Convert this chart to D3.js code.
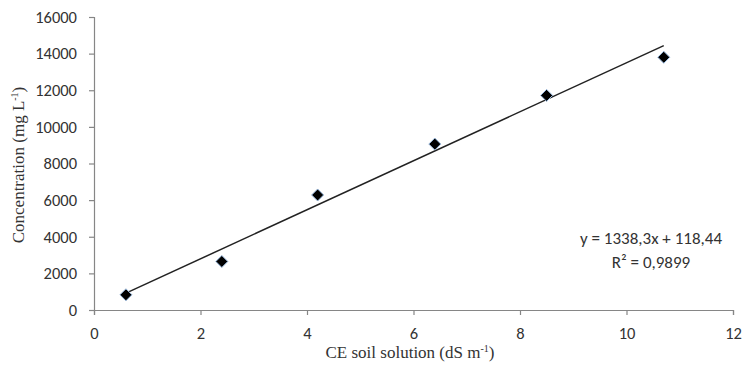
<!DOCTYPE html>
<html>
<head>
<meta charset="utf-8">
<script src="https://cdn.jsdelivr.net/npm/d3@7"></script>
<style>
  body { margin: 0; background: #fff; }
  .tick text { font-family: Carlito, "Open Sans", "Liberation Sans", sans-serif; font-size: 16.5px; fill: #333; }
  .axis-title { font-family: "Liberation Serif", "DejaVu Serif", serif; font-size: 17px; fill: #333; }
  .eq { font-family: Carlito, "Open Sans", "Liberation Sans", sans-serif; font-size: 17px; fill: #333; }
</style>
</head>
<body>
<svg id="chart" width="743" height="370"></svg>
<script>
// measured points
const ceValues = [0.6, 2.4, 4.2, 6.4, 8.5, 10.7]
const concValues = [830, 2650, 6280, 9060, 11720, 13800]
// trendline reported on the chart
const slope = 1338.3
const intercept = 118.44
const eqLines = ['y = 1338,3x + 118,44', 'R² = 0,9899']
const xTicks = [0, 2, 4, 6, 8, 10, 12]
const yTicks = [0, 2000, 4000, 6000, 8000, 10000, 12000, 14000, 16000]

const svg = d3.select('#chart')
const x = d3.scaleLinear().domain([0, 12]).range([94, 733])
const y = d3.scaleLinear().domain([0, 16000]).range([310, 17])
const axisColor = '#868686'
const fmt = (d) => d3.format('d')(d)

const gx = svg.append('g').attr('transform', `translate(0, ${y(0)})`)
  .call(d3.axisBottom(x).tickValues(xTicks).tickSize(5).tickPadding(12).tickFormat(fmt))
const gy = svg.append('g').attr('transform', `translate(${x(0)}, 0)`)
  .call(d3.axisLeft(y).tickValues(yTicks).tickSize(5).tickPadding(12).tickFormat(fmt))

;[gx, gy].forEach(g => {
  g.select('.domain').attr('stroke', axisColor).attr('stroke-width', 1.2)
  g.selectAll('.tick line').attr('stroke', axisColor).attr('stroke-width', 1.2)
  g.selectAll('text').attr('font-family', null).attr('font-size', null)
})

// trendline
const xLo = d3.min(ceValues), xHi = d3.max(ceValues)
svg.append('line')
  .attr('x1', x(xLo)).attr('y1', y(slope * xLo + intercept))
  .attr('x2', x(xHi)).attr('y2', y(slope * xHi + intercept))
  .attr('stroke', '#222').attr('stroke-width', 1.5)

// markers
const pts = ceValues.map((v, i) => [v, concValues[i]])
svg.append('g').selectAll('path').data(pts).enter().append('path')
  .attr('d', 'M0,-6L6,0L0,6L-6,0Z')
  .attr('transform', d => `translate(${x(d[0])}, ${y(d[1])})`)
  .attr('fill', '#000')
  .attr('stroke', '#9bbbe0').attr('stroke-width', 1)

// equation label
svg.append('g').selectAll('text').data(eqLines).enter().append('text')
  .attr('class', 'eq')
  .attr('x', 651).attr('y', (d, i) => 244 + i * 24)
  .attr('text-anchor', 'middle')
  .text(d => d)

// axis titles
svg.append('text').attr('class', 'axis-title')
  .attr('x', 410).attr('y', 358).attr('text-anchor', 'middle')
  .html('CE soil solution (dS m<tspan dy="-6" font-size="10">-1</tspan><tspan dy="6">)</tspan>')

svg.append('text').attr('class', 'axis-title')
  .attr('transform', 'translate(24, 165) rotate(-90)')
  .attr('text-anchor', 'middle')
  .html('Concentration (mg L<tspan dy="-6" font-size="10">-1</tspan><tspan dy="6">)</tspan>')
</script>
</body>
</html>
